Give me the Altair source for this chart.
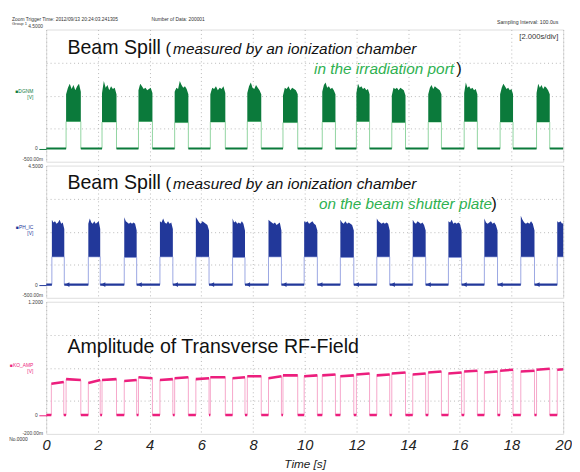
import altair as alt
import pandas as pd

# ---------------- data ----------------
x_ticks = [0, 2, 4, 6, 8, 10, 12, 14, 16, 18, 20]

# Panel 1: DGNM  (ionization chamber in the irradiation port)
p1_start = [0.77, 2.16, 3.57, 4.97, 6.35, 7.78, 9.16, 10.68, 12.00, 13.37, 14.78, 16.17, 17.56, 18.97]
p1_end   = [1.34, 2.72, 4.11, 5.50, 6.93, 8.32, 9.73, 11.19, 12.51, 13.90, 15.29, 16.68, 18.06, 19.48]
p1_low   = [1.02, 1.00, 1.02, 0.98, 1.00, 1.02, 0.98, 1.00, 1.02, 0.98, 1.00, 1.02, 1.00, 1.00]
p1_top = [
    [2.05, 2.30, 2.45, 2.25, 2.40, 2.20, 2.35, 2.45, 2.15],
    [2.10, 2.55, 2.30, 2.40, 2.20, 2.35, 2.25, 2.30, 2.05],
    [2.20, 2.45, 2.35, 2.25, 2.30, 2.20, 2.25, 2.30, 2.10],
    [2.15, 2.30, 2.25, 2.55, 2.40, 2.30, 2.35, 2.25, 2.05],
    [2.05, 2.30, 2.25, 2.35, 2.20, 2.30, 2.25, 2.35, 2.10],
    [2.10, 2.35, 2.50, 2.30, 2.25, 2.40, 2.30, 2.20, 2.05],
    [2.00, 2.30, 2.25, 2.35, 2.20, 2.30, 2.25, 2.20, 2.05],
    [2.15, 2.40, 2.50, 2.30, 2.35, 2.25, 2.30, 2.20, 2.05],
    [2.10, 2.45, 2.30, 2.35, 2.25, 2.30, 2.20, 2.25, 2.05],
    [2.00, 2.30, 2.25, 2.30, 2.20, 2.30, 2.25, 2.20, 2.00],
    [2.05, 2.30, 2.40, 2.25, 2.35, 2.30, 2.25, 2.20, 2.05],
    [2.10, 2.50, 2.30, 2.35, 2.25, 2.30, 2.20, 2.25, 2.05],
    [2.05, 2.30, 2.45, 2.35, 2.25, 2.30, 2.20, 2.25, 2.05],
    [2.10, 2.45, 2.30, 2.40, 2.25, 2.35, 2.30, 2.20, 2.05],
]

# Panel 2: PH_IC  (ionization chamber on the beam shutter plate)
p2_start = [0.22, 1.63, 3.02, 4.40, 5.79, 7.21, 8.60, 9.98, 11.38, 12.79, 14.18, 15.56, 16.95, 18.36, 19.77]
p2_end   = [0.70, 2.09, 3.50, 4.90, 6.30, 7.69, 9.10, 10.49, 11.90, 13.29, 14.68, 16.07, 17.46, 18.89, 20.27]
p2_low   = [1.05, 1.05, 1.03, 1.05, 1.05, 1.03, 1.05, 1.05, 1.03, 1.05, 1.05, 1.03, 1.05, 1.05, 1.05]
p2_top = [
    [2.45, 2.35, 2.40, 2.30, 2.35, 2.45, 2.30, 2.35, 2.10],
    [2.30, 2.50, 2.35, 2.30, 2.40, 2.30, 2.35, 2.40, 2.10],
    [2.55, 2.40, 2.35, 2.30, 2.35, 2.30, 2.35, 2.30, 2.05],
    [2.40, 2.35, 2.50, 2.35, 2.30, 2.40, 2.30, 2.35, 2.10],
    [2.55, 2.45, 2.35, 2.30, 2.40, 2.35, 2.30, 2.25, 2.05],
    [2.50, 2.35, 2.40, 2.30, 2.35, 2.30, 2.40, 2.30, 2.05],
    [2.45, 2.40, 2.35, 2.30, 2.35, 2.25, 2.30, 2.35, 2.05],
    [2.40, 2.35, 2.40, 2.30, 2.35, 2.40, 2.30, 2.25, 2.05],
    [2.45, 2.35, 2.30, 2.40, 2.30, 2.35, 2.30, 2.25, 2.05],
    [2.50, 2.40, 2.35, 2.30, 2.35, 2.30, 2.35, 2.30, 2.05],
    [2.45, 2.35, 2.30, 2.40, 2.35, 2.30, 2.35, 2.25, 2.05],
    [2.40, 2.35, 2.45, 2.30, 2.35, 2.30, 2.35, 2.30, 2.05],
    [2.50, 2.35, 2.30, 2.35, 2.40, 2.30, 2.35, 2.25, 2.05],
    [2.60, 2.45, 2.35, 2.30, 2.35, 2.30, 2.40, 2.30, 2.05],
    [2.40, 2.35, 2.40, 2.30, 2.35, 2.40, 2.30, 2.35, 2.30],
]

# Panel 3: KO_AMP  (RF on while either chamber sees beam), level at start / end of each burst
p3_start = [0.20, 0.77, 1.63, 2.16, 3.02, 3.57, 4.40, 4.97, 5.79, 6.35, 7.21, 7.78, 8.60, 9.16,
            9.98, 10.68, 11.38, 12.00, 12.79, 13.37, 14.18, 14.78, 15.56, 16.17, 16.95, 17.56,
            18.36, 18.97, 19.77]
p3_end   = [0.68, 1.34, 2.09, 2.72, 3.50, 4.11, 4.90, 5.50, 6.30, 6.93, 7.69, 8.32, 9.10, 9.73,
            10.49, 11.19, 11.90, 12.51, 13.29, 13.90, 14.68, 15.29, 16.07, 16.68, 17.46, 18.06,
            18.89, 19.48, 20.27]
p3_lv_a  = [0.33, 0.38, 0.34, 0.37, 0.36, 0.40, 0.37, 0.39, 0.38, 0.40, 0.39, 0.41, 0.39, 0.42,
            0.41, 0.42, 0.41, 0.43, 0.42, 0.44, 0.43, 0.45, 0.44, 0.46, 0.45, 0.47, 0.46, 0.48, 0.48]
p3_lv_b  = [0.35, 0.37, 0.37, 0.38, 0.37, 0.39, 0.38, 0.40, 0.39, 0.40, 0.40, 0.41, 0.41, 0.42,
            0.42, 0.43, 0.42, 0.44, 0.43, 0.45, 0.44, 0.46, 0.45, 0.47, 0.46, 0.48, 0.47, 0.49, 0.49]

# ---------------- styling ----------------
GREEN, GREEN_L = "#0b7a3b", "#8fd4a0"
BLUE, BLUE_L = "#22389a", "#9aa6e2"
PINK, PINK_L = "#ec1e7d", "#f6a6ca"
TXT_GREEN = "#2eb150"
FONT = "Liberation Sans"
W, H = 528, 135


def band_df(starts, ends, lows, tops):
    rows = []
    for i, (s, e, lo, tp) in enumerate(zip(starts, ends, lows, tops)):
        n = len(tp)
        for k, v in enumerate(tp):
            rows.append({"spill": i, "t": s + (e - s) * k / (n - 1), "top": v, "low": lo})
    return pd.DataFrame(rows)


def step_df(starts, ends, lows_a, lows_b=None):
    lows_b = lows_b or lows_a
    rows = [(-1.0, 0.0)]
    for s, e, a, b in zip(starts, ends, lows_a, lows_b):
        rows += [(s, 0.0), (s, a), (e, b), (e, 0.0)]
    rows.append((21.0, 0.0))
    return pd.DataFrame([{"o": i, "t": t, "v": v} for i, (t, v) in enumerate(rows)])


def base_df(starts, ends):
    rows, prev = [], 0.0
    for s, e in zip(starts, ends):
        rows.append({"t": prev, "t2": s, "v": 0.0})
        prev = e
    if prev < 20:
        rows.append({"t": prev, "t2": 20.0, "v": 0.0})
    return pd.DataFrame(rows)


def xenc(bottom=False):
    if bottom:
        ax = alt.Axis(values=x_ticks, title="Time [s]", labelFontStyle="italic", labelFontSize=15,
                      labelColor="#222", labelFont=FONT, labelPadding=4, ticks=False, domain=False,
                      titleFontStyle="italic", titleFontSize=12, titleFontWeight="normal",
                      titleFont=FONT, titleColor="#222", titlePadding=6,
                      grid=True, gridDash=[1, 3], gridColor="#b8b8b8", labelFlush=False)
    else:
        ax = alt.Axis(values=x_ticks, title=None, labels=False, ticks=False, domain=False,
                      grid=True, gridDash=[1, 3], gridColor="#b8b8b8")
    return alt.X("t:Q", scale=alt.Scale(domain=[0, 20], nice=False, zero=False), axis=ax)


def yenc(field, lo, hi, grid_vals, color):
    vals = [0] + grid_vals
    cond_grid = " || ".join([f"datum.value === {g}" for g in grid_vals])
    ax = alt.Axis(values=vals, title=None, domain=False, labels=False,
                  tickSize=7.5, tickWidth=1,
                  tickColor={"condition": {"test": "datum.value === 0", "value": color},
                             "value": "transparent"},
                  grid=True, gridDash=[1, 3],
                  gridColor={"condition": {"test": cond_grid, "value": "#b8b8b8"},
                             "value": "transparent"})
    return alt.Y(f"{field}:Q", scale=alt.Scale(domain=[lo, hi], nice=False, zero=False), axis=ax)


def text_layer(items, size, color="#111", style="normal", align="left", baseline="alphabetic",
               font=FONT):
    df = pd.DataFrame(items, columns=["t", "v", "label"])
    return alt.Chart(df).mark_text(align=align, baseline=baseline, fontSize=size, color=color,
                                   fontStyle=style, font=font, clip=False).encode(
        x=alt.X("t:Q"), y=alt.Y("v:Q"), text="label:N")


def ylabels(top_v, top_txt, bot_v, bot_txt):
    return [
        text_layer([(-0.12, top_v, top_txt), (-0.12, bot_v, bot_txt)], 5, color="#444",
                   align="right", baseline="middle"),
        text_layer([(-0.33, 0.0, "0")], 5, color="#444", align="right", baseline="middle"),
    ]


def spill_panel(starts, ends, lows, tops, dark, light, lo, hi, bottom=False):
    band = band_df(starts, ends, lows, tops)
    step = step_df(starts, ends, lows)
    base = base_df(starts, ends)
    y = yenc("v", lo, hi, [0.75, 2.0, 3.25], dark)
    line = alt.Chart(step).mark_line(color=light, strokeWidth=1, clip=True).encode(
        x=xenc(bottom), y=y, order="o:Q")
    area = alt.Chart(band).mark_area(color=dark, opacity=1, clip=True, interpolate="linear").encode(
        x="t:Q", y=alt.Y("top:Q"), y2="low:Q", detail="spill:N")
    baseline = alt.Chart(base).mark_rule(color=dark, strokeWidth=2.2, clip=True).encode(
        x="t:Q", x2="t2:Q", y="v:Q")
    return [line, area, baseline]


# ---------------- panel 1 ----------------
l1 = spill_panel(p1_start, p1_end, p1_low, p1_top, GREEN, GREEN_L, -0.5, 4.5)
t1 = [
    text_layer([(0.82, 3.57, "Beam Spill")], 20),
    text_layer([(4.62, 3.57, "(")], 17),
    text_layer([(4.91, 3.57, "measured by an ionization chamber")], 15.7, style="italic"),
    text_layer([(10.36, 2.82, "in the irradiation port")], 15.7, color=TXT_GREEN, style="italic"),
    text_layer([(15.86, 2.82, ")")], 17),
    text_layer([(-1.32, 4.91, "Zoom Trigger Time: 2012/09/13 20:24:03.241305"),
                (4.07, 4.91, "Number of Data: 200001")], 5.0, color="#333", baseline="middle"),
    text_layer([(-1.32, 4.70, "Group 1")], 4.2, color="#333", baseline="middle"),
    text_layer([(19.81, 4.77, "Sampling Interval: 100.0us")], 5.3, color="#333", align="right",
               baseline="middle"),
    text_layer([(19.81, 4.21, "[2.000s/div]")], 7.8, color="#333", align="right", baseline="middle"),
    text_layer([(-0.5, 2.17, "■DGNM"), (-0.5, 1.94, "[V]")], 5, color=GREEN, align="right",
               baseline="middle"),
    *ylabels(4.65, "4.5000", -0.415, "-500.00m"),
]
panel1 = alt.layer(*l1, *t1).properties(width=W, height=H)

# ---------------- panel 2 ----------------
l2 = spill_panel(p2_start, p2_end, p2_low, p2_top, BLUE, BLUE_L, -0.5, 4.5)
arrows = pd.DataFrame({"t": [e + 0.12 for e in p2_end if e + 0.12 < 20], "v": 0.0})
arrow_layer = alt.Chart(arrows).mark_point(shape="triangle-left", filled=True, size=22,
                                           color=BLUE, opacity=1, clip=True).encode(x="t:Q", y="v:Q")
t2 = [
    text_layer([(0.82, 3.60, "Beam Spill")], 20),
    text_layer([(4.62, 3.60, "(")], 17),
    text_layer([(4.91, 3.60, "measured by an ionization chamber")], 15.7, style="italic"),
    text_layer([(10.55, 2.86, "on the beam shutter plate")], 15.6, color=TXT_GREEN, style="italic"),
    text_layer([(17.22, 2.86, ")")], 17),
    text_layer([(-0.5, 2.17, "■PH_IC"), (-0.5, 1.94, "[V]")], 5, color=BLUE, align="right",
               baseline="middle"),
    *ylabels(4.47, "4.5000", -0.41, "-500.00m"),
]
panel2 = alt.layer(*l2, arrow_layer, *t2).properties(width=W, height=H)

# ---------------- panel 3 ----------------
step3 = step_df(p3_start, p3_end, p3_lv_a, p3_lv_b)
on3 = pd.DataFrame({"t": p3_start, "t2": p3_end, "v": p3_lv_a, "v2": p3_lv_b})
base3 = base_df(p3_start, p3_end)
y3 = yenc("v", -0.2, 1.2, [0.15, 0.5, 0.85], PINK)
line3 = alt.Chart(step3).mark_line(color=PINK_L, strokeWidth=1, clip=True).encode(
    x=xenc(bottom=True), y=y3, order="o:Q")
on_layer = alt.Chart(on3).mark_rule(color=PINK, strokeWidth=2.6, clip=True).encode(
    x="t:Q", x2="t2:Q", y="v:Q", y2="v2:Q")
base_layer3 = alt.Chart(base3).mark_rule(color=PINK, strokeWidth=2.6, clip=True).encode(
    x="t:Q", x2="t2:Q", y="v:Q")
t3 = [
    text_layer([(0.82, 0.66, "Amplitude of Transverse RF-Field")], 20),
    text_layer([(-0.5, 0.532, "■KO_AMP"), (-0.5, 0.47, "[V]")], 5, color=PINK, align="right",
               baseline="middle"),
    text_layer([(-1.43, -0.252, "No.0000")], 5, color="#333", baseline="middle"),
    *ylabels(1.193, "1.2000", -0.186, "-200.00m"),
]
panel3 = alt.layer(line3, on_layer, base_layer3, *t3).properties(width=W, height=H)

chart = alt.vconcat(panel1, panel2, panel3, spacing=0).resolve_scale(y="independent").configure_view(
    stroke="#9a9a9a", strokeWidth=1.5).configure(padding={"left": 0, "top": 3, "right": 0, "bottom": 0},
                                                   background="white")

chart.save("out.html", embed_options={"renderer": "svg", "actions": False})
